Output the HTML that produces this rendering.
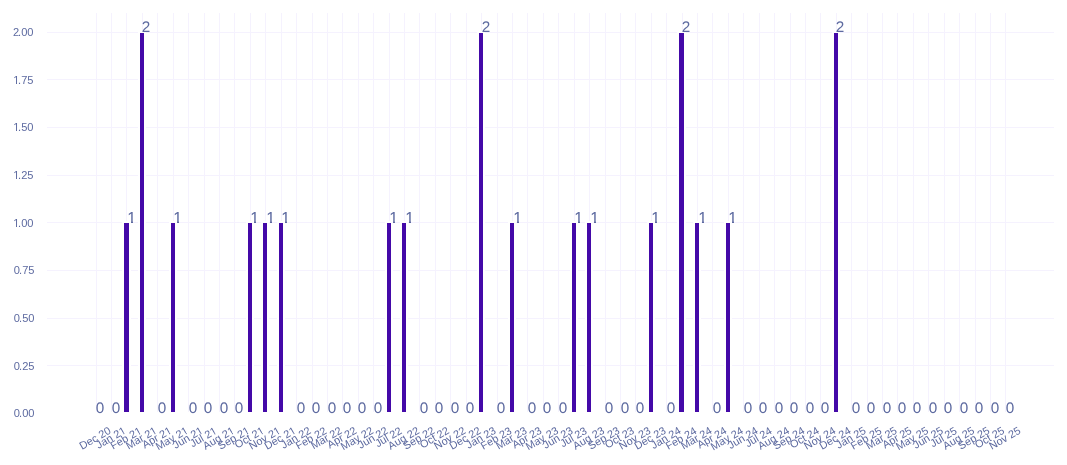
<!DOCTYPE html>
<html lang="en"><head><meta charset="utf-8"><title>Chart</title>
<style>html,body{margin:0;padding:0;background:#fff;overflow:hidden}svg{display:block}text{font-family:"Liberation Sans",sans-serif;fill:#5d6aa0}.g text{text-rendering:geometricPrecision}</style></head><body>
<svg width="1067" height="465" viewBox="0 0 1067 465">
<rect width="1067" height="465" fill="#fff"/>
<defs>
<clipPath id="c1"><path clip-rule="evenodd" d="M-99,-99H99V99H-99ZM0.32,-2.00H3.70V1H0.32ZM5.70,-2.00H8.90V1H5.70Z"/></clipPath>
<clipPath id="c2"><path clip-rule="evenodd" d="M-99,-99H99V99H-99ZM0.22,-2.00H2.79V1H0.22ZM3.77,-2.00H5.70V1H3.77Z"/></clipPath>
<clipPath id="c3"><path clip-rule="evenodd" d="M-99,-99H99V99H-99ZM-5.82,-2.00H-3.31V1H-5.82ZM-2.35,-2.00H0.04V1H-2.35Z"/></clipPath>
</defs>
<g fill="#f5f2fe" shape-rendering="crispEdges">
<rect x="96" y="13" width="1" height="399"/>
<rect x="111" y="13" width="1" height="399"/>
<rect x="126" y="13" width="1" height="399"/>
<rect x="142" y="13" width="1" height="399"/>
<rect x="157" y="13" width="1" height="399"/>
<rect x="173" y="13" width="1" height="399"/>
<rect x="188" y="13" width="1" height="399"/>
<rect x="204" y="13" width="1" height="399"/>
<rect x="219" y="13" width="1" height="399"/>
<rect x="234" y="13" width="1" height="399"/>
<rect x="250" y="13" width="1" height="399"/>
<rect x="265" y="13" width="1" height="399"/>
<rect x="281" y="13" width="1" height="399"/>
<rect x="296" y="13" width="1" height="399"/>
<rect x="312" y="13" width="1" height="399"/>
<rect x="327" y="13" width="1" height="399"/>
<rect x="342" y="13" width="1" height="399"/>
<rect x="358" y="13" width="1" height="399"/>
<rect x="373" y="13" width="1" height="399"/>
<rect x="389" y="13" width="1" height="399"/>
<rect x="404" y="13" width="1" height="399"/>
<rect x="419" y="13" width="1" height="399"/>
<rect x="435" y="13" width="1" height="399"/>
<rect x="450" y="13" width="1" height="399"/>
<rect x="466" y="13" width="1" height="399"/>
<rect x="481" y="13" width="1" height="399"/>
<rect x="497" y="13" width="1" height="399"/>
<rect x="512" y="13" width="1" height="399"/>
<rect x="527" y="13" width="1" height="399"/>
<rect x="543" y="13" width="1" height="399"/>
<rect x="558" y="13" width="1" height="399"/>
<rect x="574" y="13" width="1" height="399"/>
<rect x="589" y="13" width="1" height="399"/>
<rect x="605" y="13" width="1" height="399"/>
<rect x="620" y="13" width="1" height="399"/>
<rect x="635" y="13" width="1" height="399"/>
<rect x="651" y="13" width="1" height="399"/>
<rect x="666" y="13" width="1" height="399"/>
<rect x="682" y="13" width="1" height="399"/>
<rect x="697" y="13" width="1" height="399"/>
<rect x="712" y="13" width="1" height="399"/>
<rect x="728" y="13" width="1" height="399"/>
<rect x="743" y="13" width="1" height="399"/>
<rect x="759" y="13" width="1" height="399"/>
<rect x="774" y="13" width="1" height="399"/>
<rect x="790" y="13" width="1" height="399"/>
<rect x="805" y="13" width="1" height="399"/>
<rect x="820" y="13" width="1" height="399"/>
<rect x="836" y="13" width="1" height="399"/>
<rect x="851" y="13" width="1" height="399"/>
<rect x="867" y="13" width="1" height="399"/>
<rect x="882" y="13" width="1" height="399"/>
<rect x="897" y="13" width="1" height="399"/>
<rect x="913" y="13" width="1" height="399"/>
<rect x="928" y="13" width="1" height="399"/>
<rect x="944" y="13" width="1" height="399"/>
<rect x="959" y="13" width="1" height="399"/>
<rect x="975" y="13" width="1" height="399"/>
<rect x="990" y="13" width="1" height="399"/>
<rect x="1005" y="13" width="1" height="399"/>
<rect x="47" y="365" width="1007" height="1"/>
<rect x="47" y="318" width="1007" height="1"/>
<rect x="47" y="270" width="1007" height="1"/>
<rect x="47" y="222" width="1007" height="1"/>
<rect x="47" y="175" width="1007" height="1"/>
<rect x="47" y="127" width="1007" height="1"/>
<rect x="47" y="79" width="1007" height="1"/>
<rect x="47" y="32" width="1007" height="1"/>
</g>
<g shape-rendering="crispEdges">
<rect x="122" y="221" width="9" height="191" fill="#fff"/>
<rect x="124" y="223" width="5" height="189" fill="#4409a8"/>
<rect x="138" y="31" width="8" height="381" fill="#fff"/>
<rect x="140" y="33" width="4" height="379" fill="#4409a8"/>
<rect x="169" y="221" width="8" height="191" fill="#fff"/>
<rect x="171" y="223" width="4" height="189" fill="#4409a8"/>
<rect x="246" y="221" width="8" height="191" fill="#fff"/>
<rect x="248" y="223" width="4" height="189" fill="#4409a8"/>
<rect x="261" y="221" width="8" height="191" fill="#fff"/>
<rect x="263" y="223" width="4" height="189" fill="#4409a8"/>
<rect x="277" y="221" width="8" height="191" fill="#fff"/>
<rect x="279" y="223" width="4" height="189" fill="#4409a8"/>
<rect x="385" y="221" width="8" height="191" fill="#fff"/>
<rect x="387" y="223" width="4" height="189" fill="#4409a8"/>
<rect x="400" y="221" width="8" height="191" fill="#fff"/>
<rect x="402" y="223" width="4" height="189" fill="#4409a8"/>
<rect x="477" y="31" width="8" height="381" fill="#fff"/>
<rect x="479" y="33" width="4" height="379" fill="#4409a8"/>
<rect x="508" y="221" width="8" height="191" fill="#fff"/>
<rect x="510" y="223" width="4" height="189" fill="#4409a8"/>
<rect x="570" y="221" width="8" height="191" fill="#fff"/>
<rect x="572" y="223" width="4" height="189" fill="#4409a8"/>
<rect x="585" y="221" width="8" height="191" fill="#fff"/>
<rect x="587" y="223" width="4" height="189" fill="#4409a8"/>
<rect x="647" y="221" width="8" height="191" fill="#fff"/>
<rect x="649" y="223" width="4" height="189" fill="#4409a8"/>
<rect x="677" y="31" width="9" height="381" fill="#fff"/>
<rect x="679" y="33" width="5" height="379" fill="#4409a8"/>
<rect x="693" y="221" width="8" height="191" fill="#fff"/>
<rect x="695" y="223" width="4" height="189" fill="#4409a8"/>
<rect x="724" y="221" width="8" height="191" fill="#fff"/>
<rect x="726" y="223" width="4" height="189" fill="#4409a8"/>
<rect x="832" y="31" width="8" height="381" fill="#fff"/>
<rect x="834" y="33" width="4" height="379" fill="#4409a8"/>
</g>
<g class="g" font-size="15.3px">
<text transform="translate(95.85,413)">0</text>
<text transform="translate(111.85,413)">0</text>
<text transform="translate(127.30,223)" font-size="15.9px" clip-path="url(#c1)">1</text>
<text transform="translate(141.85,32)">2</text>
<text transform="translate(157.85,413)">0</text>
<text transform="translate(173.30,223)" font-size="15.9px" clip-path="url(#c1)">1</text>
<text transform="translate(188.85,413)">0</text>
<text transform="translate(203.85,413)">0</text>
<text transform="translate(219.85,413)">0</text>
<text transform="translate(234.85,413)">0</text>
<text transform="translate(250.30,223)" font-size="15.9px" clip-path="url(#c1)">1</text>
<text transform="translate(266.30,223)" font-size="15.9px" clip-path="url(#c1)">1</text>
<text transform="translate(281.30,223)" font-size="15.9px" clip-path="url(#c1)">1</text>
<text transform="translate(296.85,413)">0</text>
<text transform="translate(311.85,413)">0</text>
<text transform="translate(327.85,413)">0</text>
<text transform="translate(342.85,413)">0</text>
<text transform="translate(357.85,413)">0</text>
<text transform="translate(373.85,413)">0</text>
<text transform="translate(389.30,223)" font-size="15.9px" clip-path="url(#c1)">1</text>
<text transform="translate(405.30,223)" font-size="15.9px" clip-path="url(#c1)">1</text>
<text transform="translate(419.85,413)">0</text>
<text transform="translate(434.85,413)">0</text>
<text transform="translate(450.85,413)">0</text>
<text transform="translate(465.85,413)">0</text>
<text transform="translate(481.85,32)">2</text>
<text transform="translate(496.85,413)">0</text>
<text transform="translate(513.30,223)" font-size="15.9px" clip-path="url(#c1)">1</text>
<text transform="translate(527.85,413)">0</text>
<text transform="translate(542.85,413)">0</text>
<text transform="translate(558.85,413)">0</text>
<text transform="translate(574.30,223)" font-size="15.9px" clip-path="url(#c1)">1</text>
<text transform="translate(590.30,223)" font-size="15.9px" clip-path="url(#c1)">1</text>
<text transform="translate(604.85,413)">0</text>
<text transform="translate(620.85,413)">0</text>
<text transform="translate(635.85,413)">0</text>
<text transform="translate(651.30,223)" font-size="15.9px" clip-path="url(#c1)">1</text>
<text transform="translate(666.85,413)">0</text>
<text transform="translate(681.85,32)">2</text>
<text transform="translate(698.30,223)" font-size="15.9px" clip-path="url(#c1)">1</text>
<text transform="translate(712.85,413)">0</text>
<text transform="translate(728.30,223)" font-size="15.9px" clip-path="url(#c1)">1</text>
<text transform="translate(743.85,413)">0</text>
<text transform="translate(758.85,413)">0</text>
<text transform="translate(774.85,413)">0</text>
<text transform="translate(789.85,413)">0</text>
<text transform="translate(805.85,413)">0</text>
<text transform="translate(820.85,413)">0</text>
<text transform="translate(835.85,32)">2</text>
<text transform="translate(851.85,413)">0</text>
<text transform="translate(866.85,413)">0</text>
<text transform="translate(882.85,413)">0</text>
<text transform="translate(897.85,413)">0</text>
<text transform="translate(912.85,413)">0</text>
<text transform="translate(928.85,413)">0</text>
<text transform="translate(943.85,413)">0</text>
<text transform="translate(959.85,413)">0</text>
<text transform="translate(974.85,413)">0</text>
<text transform="translate(990.85,413)">0</text>
<text transform="translate(1005.85,413)">0</text>
</g>
<g font-size="11.1px">
<text transform="translate(13.72,417)" x="0 5.28 8.63 14.63">0.00</text>
<text transform="translate(13.72,370)" x="0 5.28 8.63 14.63">0.25</text>
<text transform="translate(13.72,322)" x="0 5.28 8.63 14.63">0.50</text>
<text transform="translate(13.72,274)" x="0 5.28 8.63 14.63">0.75</text>
<text transform="translate(13.22,227)" x="0 4.78 8.08 14.08" clip-path="url(#c2)">1.00</text>
<text transform="translate(13.22,179)" x="0 4.78 8.08 14.08" clip-path="url(#c2)">1.25</text>
<text transform="translate(13.22,131)" x="0 4.78 8.08 14.08" clip-path="url(#c2)">1.50</text>
<text transform="translate(13.22,84)" x="0 4.78 8.08 14.08" clip-path="url(#c2)">1.75</text>
<text transform="translate(12.96,36)" x="0 5.04 8.34 14.34">2.00</text>
</g>
<g class="g" font-size="10.85px" text-anchor="end">
<text transform="translate(111.66,432.80) rotate(-30)">Dec 20</text>
<text transform="translate(126.66,432.75) rotate(-30)" clip-path="url(#c3)">Jan 21</text>
<text transform="translate(142.36,432.99) rotate(-30)" clip-path="url(#c3)">Feb 21</text>
<text transform="translate(157.70,432.75) rotate(-30)" clip-path="url(#c3)">Mar 21</text>
<text transform="translate(172.45,432.75) rotate(-30)" clip-path="url(#c3)">Apr 21</text>
<text transform="translate(189.06,432.75) rotate(-30)" clip-path="url(#c3)">May 21</text>
<text transform="translate(203.76,432.75) rotate(-30)" clip-path="url(#c3)">Jun 21</text>
<text transform="translate(217.68,432.99) rotate(-30)" clip-path="url(#c3)">Jul 21</text>
<text transform="translate(235.18,432.75) rotate(-30)" clip-path="url(#c3)">Aug 21</text>
<text transform="translate(250.39,432.75) rotate(-30)" clip-path="url(#c3)">Sep 21</text>
<text transform="translate(265.02,432.75) rotate(-30)" clip-path="url(#c3)">Oct 21</text>
<text transform="translate(281.33,432.75) rotate(-30)" clip-path="url(#c3)">Nov 21</text>
<text transform="translate(296.75,432.75) rotate(-30)" clip-path="url(#c3)">Dec 21</text>
<text transform="translate(311.70,432.74) rotate(-30)">Jan 22</text>
<text transform="translate(327.40,432.99) rotate(-30)">Feb 22</text>
<text transform="translate(342.75,432.74) rotate(-30)">Mar 22</text>
<text transform="translate(357.50,432.74) rotate(-30)">Apr 22</text>
<text transform="translate(374.11,432.74) rotate(-30)">May 22</text>
<text transform="translate(388.80,432.74) rotate(-30)">Jun 22</text>
<text transform="translate(402.73,432.99) rotate(-30)">Jul 22</text>
<text transform="translate(420.23,432.74) rotate(-30)">Aug 22</text>
<text transform="translate(435.44,432.74) rotate(-30)">Sep 22</text>
<text transform="translate(450.07,432.74) rotate(-30)">Oct 22</text>
<text transform="translate(466.37,432.74) rotate(-30)">Nov 22</text>
<text transform="translate(481.79,432.74) rotate(-30)">Dec 22</text>
<text transform="translate(496.71,432.77) rotate(-30)">Jan 23</text>
<text transform="translate(512.42,433.02) rotate(-30)">Feb 23</text>
<text transform="translate(527.76,432.77) rotate(-30)">Mar 23</text>
<text transform="translate(542.51,432.77) rotate(-30)">Apr 23</text>
<text transform="translate(559.12,432.77) rotate(-30)">May 23</text>
<text transform="translate(573.81,432.77) rotate(-30)">Jun 23</text>
<text transform="translate(587.74,433.02) rotate(-30)">Jul 23</text>
<text transform="translate(605.24,432.77) rotate(-30)">Aug 23</text>
<text transform="translate(620.45,432.77) rotate(-30)">Sep 23</text>
<text transform="translate(635.08,432.77) rotate(-30)">Oct 23</text>
<text transform="translate(651.38,432.77) rotate(-30)">Nov 23</text>
<text transform="translate(666.80,432.77) rotate(-30)">Dec 23</text>
<text transform="translate(681.69,432.85) rotate(-30)">Jan 24</text>
<text transform="translate(697.39,433.10) rotate(-30)">Feb 24</text>
<text transform="translate(712.73,432.85) rotate(-30)">Mar 24</text>
<text transform="translate(727.48,432.85) rotate(-30)">Apr 24</text>
<text transform="translate(744.09,432.85) rotate(-30)">May 24</text>
<text transform="translate(758.79,432.85) rotate(-30)">Jun 24</text>
<text transform="translate(772.71,433.10) rotate(-30)">Jul 24</text>
<text transform="translate(790.21,432.85) rotate(-30)">Aug 24</text>
<text transform="translate(805.42,432.85) rotate(-30)">Sep 24</text>
<text transform="translate(820.05,432.85) rotate(-30)">Oct 24</text>
<text transform="translate(836.35,432.85) rotate(-30)">Nov 24</text>
<text transform="translate(851.77,432.85) rotate(-30)">Dec 24</text>
<text transform="translate(866.79,432.78) rotate(-30)">Jan 25</text>
<text transform="translate(882.49,433.03) rotate(-30)">Feb 25</text>
<text transform="translate(897.83,432.78) rotate(-30)">Mar 25</text>
<text transform="translate(912.58,432.78) rotate(-30)">Apr 25</text>
<text transform="translate(929.19,432.78) rotate(-30)">May 25</text>
<text transform="translate(943.89,432.78) rotate(-30)">Jun 25</text>
<text transform="translate(957.81,433.03) rotate(-30)">Jul 25</text>
<text transform="translate(975.31,432.78) rotate(-30)">Aug 25</text>
<text transform="translate(990.52,432.78) rotate(-30)">Sep 25</text>
<text transform="translate(1005.15,432.78) rotate(-30)">Oct 25</text>
<text transform="translate(1021.45,432.78) rotate(-30)">Nov 25</text>
</g>
</svg></body></html>
